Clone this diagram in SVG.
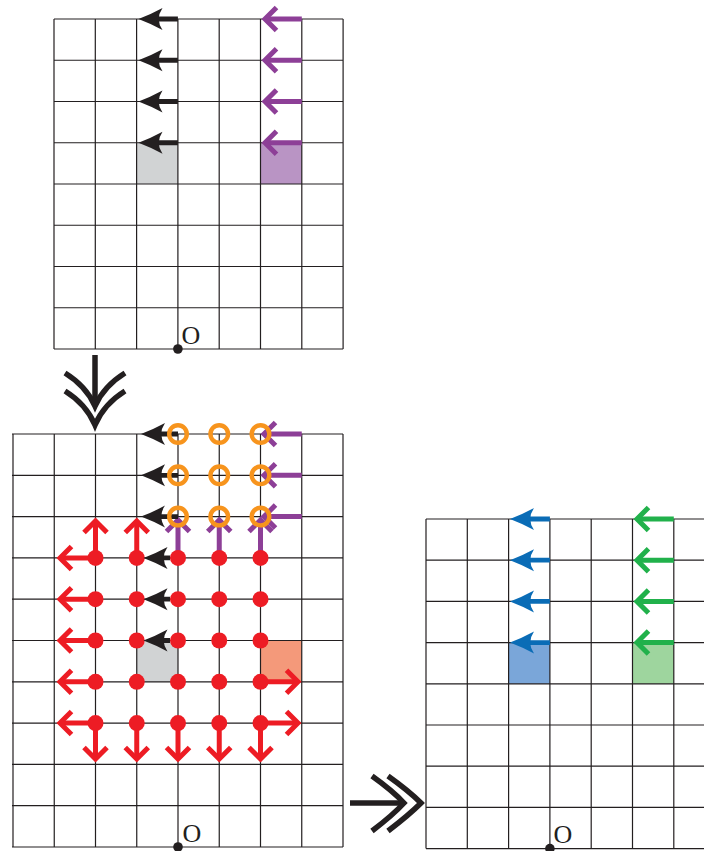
<svg xmlns="http://www.w3.org/2000/svg" xmlns:xlink="http://www.w3.org/1999/xlink" width="704" height="851" viewBox="0 0 704 851">
<style>
.grid{fill:none;stroke:#231f20;stroke-width:1.2}
.k{fill:none;stroke:#231f20;stroke-width:4.8}
.kh{fill:#231f20}
.p{fill:none;stroke:#8d3f97;stroke-width:5}
.r{fill:none;stroke:#ed1c24;stroke-width:5}
.b{fill:none;stroke:#0a6cb6;stroke-width:4.8}
.bh{fill:#0a6cb6}
.g{fill:none;stroke:#21b14b;stroke-width:5}
.dot{fill:#ed1c24}
.ring{fill:none;stroke:#f7941d;stroke-width:4.4}
.o{font-family:"Liberation Serif","Times New Roman",serif;font-size:26px;fill:#231f20}
.big{fill:none;stroke:#231f20;stroke-width:5.5}
</style>
<defs>
<path id="hf" d="M0,0 Q-12,-4.5 -24,-11 Q-16.5,0 -24,11 Q-12,4.5 0,0Z"/>
<path id="ch" d="M-11.5,-11.5 L0,0 L-11.5,11.5" fill="none"/>
</defs>
<rect width="704" height="851" fill="#ffffff"/>

<g id="panel-top">
<rect x="136.6" y="142.75" width="41.3" height="41.25" fill="#d1d3d4"/>
<rect x="260.5" y="142.75" width="41.3" height="41.25" fill="#b994c4"/>
<path class="grid" d="M54,19V349M95.3,19V349M136.6,19V349M177.9,19V349M219.2,19V349M260.5,19V349M301.8,19V349M343.1,19V349M54,19H343.1M54,60.25H343.1M54,101.5H343.1M54,142.75H343.1M54,184H343.1M54,225.25H343.1M54,266.5H343.1M54,307.75H343.1M54,349H343.1"/>
<g id="top-black-arrows">
<path class="k" d="M177.9,19H155M177.9,60.25H155M177.9,101.5H155M177.9,142.75H155"/>
<use href="#hf" class="kh" transform="translate(138.5,19) rotate(180)"/>
<use href="#hf" class="kh" transform="translate(138.5,60.25) rotate(180)"/>
<use href="#hf" class="kh" transform="translate(138.5,101.5) rotate(180)"/>
<use href="#hf" class="kh" transform="translate(138.5,142.75) rotate(180)"/>
</g>
<g id="top-purple-arrows">
<path class="p" d="M301.8,19H266M301.8,60.25H266M301.8,101.5H266M301.8,142.75H266"/>
<use href="#ch" class="p" transform="translate(265,19) rotate(180)"/>
<use href="#ch" class="p" transform="translate(265,60.25) rotate(180)"/>
<use href="#ch" class="p" transform="translate(265,101.5) rotate(180)"/>
<use href="#ch" class="p" transform="translate(265,142.75) rotate(180)"/>
</g>
<circle cx="177.9" cy="349" r="4.8" fill="#231f20"/>
<text class="o" x="181.5" y="344">O</text>
</g>

<g id="panel-bottom-left">
<rect x="136.75" y="640.5" width="41.25" height="41.3" fill="#d1d3d4"/>
<rect x="260.5" y="640.5" width="41.25" height="41.3" fill="#f4997a"/>
<path class="grid" d="M13,434V847M54.25,434V847M95.5,434V847M136.75,434V847M178,434V847M219.25,434V847M260.5,434V847M301.75,434V847M343,434V847M12,434H343M12,475.3H343M12,516.6H343M12,557.9H343M12,599.2H343M12,640.5H343M12,681.8H343M12,723.1H343M12,764.4H343M12,805.7H343M12,847H343"/>
<g id="bl-purple-arrows">
<path class="p" d="M301.75,434H265M301.75,475.3H265M301.75,516.6H265M178,557.9V521M219.25,557.9V521M260.5,557.9V521"/>
<use href="#ch" class="p" transform="translate(264,434) rotate(180)"/>
<use href="#ch" class="p" transform="translate(264,475.3) rotate(180)"/>
<use href="#ch" class="p" transform="translate(264,516.6) rotate(180)"/>
<use href="#ch" class="p" transform="translate(178,520) rotate(-90)"/>
<use href="#ch" class="p" transform="translate(219.25,520) rotate(-90)"/>
<use href="#ch" class="p" transform="translate(260.5,520) rotate(-90)"/>
</g>
<g id="bl-red-arrows">
<path class="r" d="M95.5,557.9V522M136.75,557.9V522M95.5,557.9H61M95.5,599.2H61M95.5,640.5H61M95.5,681.8H61M95.5,723.1H61M260.5,681.8H297M260.5,723.1H297M95.5,723.1V758M136.75,723.1V758M178,723.1V758M219.25,723.1V758M260.5,723.1V758"/>
<use href="#ch" class="r" transform="translate(95.5,521) rotate(-90)"/>
<use href="#ch" class="r" transform="translate(136.75,521) rotate(-90)"/>
<use href="#ch" class="r" transform="translate(60,557.9) rotate(180)"/>
<use href="#ch" class="r" transform="translate(60,599.2) rotate(180)"/>
<use href="#ch" class="r" transform="translate(60,640.5) rotate(180)"/>
<use href="#ch" class="r" transform="translate(60,681.8) rotate(180)"/>
<use href="#ch" class="r" transform="translate(60,723.1) rotate(180)"/>
<use href="#ch" class="r" transform="translate(298,681.8)"/>
<use href="#ch" class="r" transform="translate(298,723.1)"/>
<use href="#ch" class="r" transform="translate(95.5,759) rotate(90)"/>
<use href="#ch" class="r" transform="translate(136.75,759) rotate(90)"/>
<use href="#ch" class="r" transform="translate(178,759) rotate(90)"/>
<use href="#ch" class="r" transform="translate(219.25,759) rotate(90)"/>
<use href="#ch" class="r" transform="translate(260.5,759) rotate(90)"/>
</g>
<g id="bl-red-dots">
<circle class="dot" cx="95.5" cy="557.9" r="8"/><circle class="dot" cx="136.75" cy="557.9" r="8"/><circle class="dot" cx="178" cy="557.9" r="8"/><circle class="dot" cx="219.25" cy="557.9" r="8"/><circle class="dot" cx="260.5" cy="557.9" r="8"/>
<circle class="dot" cx="95.5" cy="599.2" r="8"/><circle class="dot" cx="136.75" cy="599.2" r="8"/><circle class="dot" cx="178" cy="599.2" r="8"/><circle class="dot" cx="219.25" cy="599.2" r="8"/><circle class="dot" cx="260.5" cy="599.2" r="8"/>
<circle class="dot" cx="95.5" cy="640.5" r="8"/><circle class="dot" cx="136.75" cy="640.5" r="8"/><circle class="dot" cx="178" cy="640.5" r="8"/><circle class="dot" cx="219.25" cy="640.5" r="8"/><circle class="dot" cx="260.5" cy="640.5" r="8"/>
<circle class="dot" cx="95.5" cy="681.8" r="8"/><circle class="dot" cx="136.75" cy="681.8" r="8"/><circle class="dot" cx="178" cy="681.8" r="8"/><circle class="dot" cx="219.25" cy="681.8" r="8"/><circle class="dot" cx="260.5" cy="681.8" r="8"/>
<circle class="dot" cx="95.5" cy="723.1" r="8"/><circle class="dot" cx="136.75" cy="723.1" r="8"/><circle class="dot" cx="178" cy="723.1" r="8"/><circle class="dot" cx="219.25" cy="723.1" r="8"/><circle class="dot" cx="260.5" cy="723.1" r="8"/>
</g>
<g id="bl-black-arrows">
<path class="k" d="M178,434H158M178,475.3H158M178,516.6H158M170,557.9H158M170,599.2H158M170,640.5H158"/>
<use href="#hf" class="kh" transform="translate(141,434) rotate(180)"/>
<use href="#hf" class="kh" transform="translate(141,475.3) rotate(180)"/>
<use href="#hf" class="kh" transform="translate(141,516.6) rotate(180)"/>
<use href="#hf" class="kh" transform="translate(143.5,557.9) rotate(180)"/>
<use href="#hf" class="kh" transform="translate(143.5,599.2) rotate(180)"/>
<use href="#hf" class="kh" transform="translate(143.5,640.5) rotate(180)"/>
</g>
<g id="bl-orange-rings">
<circle class="ring" cx="178" cy="434" r="8.8"/><circle class="ring" cx="219.25" cy="434" r="8.8"/><circle class="ring" cx="260.5" cy="434" r="8.8"/>
<circle class="ring" cx="178" cy="475.3" r="8.8"/><circle class="ring" cx="219.25" cy="475.3" r="8.8"/><circle class="ring" cx="260.5" cy="475.3" r="8.8"/>
<circle class="ring" cx="178" cy="516.6" r="8.8"/><circle class="ring" cx="219.25" cy="516.6" r="8.8"/><circle class="ring" cx="260.5" cy="516.6" r="8.8"/>
</g>
<circle cx="178" cy="847" r="4.8" fill="#231f20"/>
<text class="o" x="182.5" y="842">O</text>
</g>

<g id="panel-right">
<rect x="508.6" y="642.6" width="41.3" height="41.2" fill="#7aa6d9"/>
<rect x="632.5" y="642.6" width="41.3" height="41.2" fill="#9ed59e"/>
<path class="grid" d="M426,519V848.6M467.3,519V848.6M508.6,519V848.6M549.9,519V848.6M591.2,519V848.6M632.5,519V848.6M673.8,519V848.6M426,519H704M426,560.2H704M426,601.4H704M426,642.6H704M426,683.8H704M426,725H704M426,766.2H704M426,807.4H704M426,848.6H704"/>
<g id="right-blue-arrows">
<path class="b" d="M549.9,519H527M549.9,560.2H527M549.9,601.4H527M549.9,642.6H527"/>
<use href="#hf" class="bh" transform="translate(510,519) rotate(180)"/>
<use href="#hf" class="bh" transform="translate(510,560.2) rotate(180)"/>
<use href="#hf" class="bh" transform="translate(510,601.4) rotate(180)"/>
<use href="#hf" class="bh" transform="translate(510,642.6) rotate(180)"/>
</g>
<g id="right-green-arrows">
<path class="g" d="M673.8,519H638M673.8,560.2H638M673.8,601.4H638M673.8,642.6H638"/>
<use href="#ch" class="g" transform="translate(637,519) rotate(180)"/>
<use href="#ch" class="g" transform="translate(637,560.2) rotate(180)"/>
<use href="#ch" class="g" transform="translate(637,601.4) rotate(180)"/>
<use href="#ch" class="g" transform="translate(637,642.6) rotate(180)"/>
</g>
<circle cx="549.9" cy="848.6" r="4.8" fill="#231f20"/>
<text class="o" x="553.5" y="843">O</text>
</g>

<g id="connectors">
<g id="arrow-down">
<path class="big" d="M95,355V404"/>
<path class="big" d="M65,373Q86,386 95,406Q104,386 125,373"/>
<path class="big" d="M65,391Q86,404 95,425Q104,404 125,391"/>
</g>
<g id="arrow-right">
<path class="big" d="M350,803H402"/>
<path class="big" d="M372,776Q393,791 404,803Q393,815 372,831"/>
<path class="big" d="M388,776Q409,791 421,803Q409,815 388,831"/>
</g>
</g>
</svg>
